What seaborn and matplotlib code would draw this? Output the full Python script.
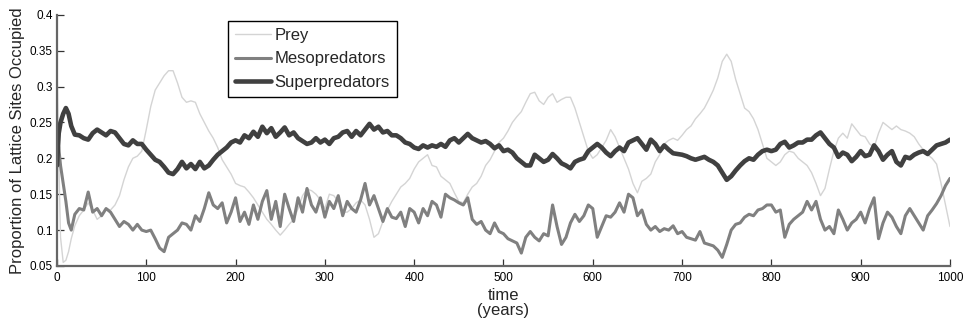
import numpy as np
import pandas as pd
import matplotlib
matplotlib.use("Agg")
import matplotlib.pyplot as plt
import seaborn as sns
from matplotlib.ticker import FuncFormatter

years = [0, 2, 4, 7, 10, 13, 16] + list(range(20, 1001, 5))

superpredators = [
    0.19, 0.235, 0.25, 0.262, 0.27, 0.262, 0.245,
    0.233, 0.232, 0.228, 0.226, 0.235, 0.24, 0.236, 0.232, 0.238, 0.236,
    0.228, 0.22, 0.218, 0.225, 0.22, 0.22, 0.212, 0.205, 0.198, 0.195,
    0.188, 0.18, 0.178, 0.185, 0.195, 0.186, 0.192, 0.185, 0.195, 0.186,
    0.19, 0.198, 0.205, 0.21, 0.215, 0.222, 0.225, 0.222, 0.232, 0.228,
    0.237, 0.23, 0.244, 0.235, 0.242, 0.23, 0.236, 0.243, 0.232, 0.236,
    0.228, 0.224, 0.22, 0.222, 0.228, 0.222, 0.226, 0.22, 0.228, 0.23,
    0.236, 0.238, 0.23, 0.238, 0.232, 0.24, 0.248, 0.24, 0.244, 0.236,
    0.238, 0.232, 0.232, 0.228, 0.222, 0.22, 0.215, 0.213, 0.218, 0.215,
    0.218, 0.216, 0.22, 0.216, 0.225, 0.228, 0.222, 0.228, 0.234, 0.228,
    0.225, 0.222, 0.224, 0.22, 0.214, 0.218, 0.21, 0.212, 0.208, 0.2,
    0.195, 0.19, 0.19, 0.205, 0.2, 0.195, 0.198, 0.206, 0.2, 0.193,
    0.19, 0.186, 0.195, 0.198, 0.2, 0.21, 0.215, 0.22, 0.215, 0.208,
    0.203, 0.21, 0.215, 0.21, 0.222, 0.225, 0.228, 0.22, 0.212, 0.226,
    0.22, 0.21, 0.218, 0.212, 0.207, 0.206, 0.205, 0.203, 0.2, 0.198,
    0.2, 0.202, 0.198, 0.195, 0.19, 0.18, 0.17, 0.175, 0.183, 0.19,
    0.196, 0.2, 0.198, 0.205, 0.21, 0.212, 0.21, 0.212, 0.22, 0.223,
    0.215, 0.218, 0.222, 0.222, 0.226, 0.226, 0.232, 0.236, 0.228, 0.22,
    0.215, 0.202, 0.208, 0.205, 0.196, 0.202, 0.21, 0.203, 0.205, 0.218,
    0.21, 0.198, 0.205, 0.21, 0.195, 0.19, 0.202, 0.2, 0.205, 0.208,
    0.21, 0.206, 0.212, 0.218, 0.22, 0.222, 0.226,
]

mesopredators = [
    0.23, 0.215, 0.19, 0.165, 0.14, 0.11, 0.1,
    0.122, 0.13, 0.128, 0.153, 0.125, 0.13, 0.12, 0.13, 0.125, 0.115,
    0.105, 0.112, 0.108, 0.1, 0.108, 0.1, 0.098, 0.1, 0.088, 0.075,
    0.07, 0.09, 0.095, 0.1, 0.11, 0.108, 0.1, 0.12, 0.112, 0.13,
    0.152, 0.135, 0.13, 0.138, 0.11, 0.125, 0.145, 0.112, 0.125, 0.108,
    0.135, 0.115, 0.14, 0.155, 0.115, 0.14, 0.105, 0.15, 0.13, 0.112,
    0.145, 0.125, 0.158, 0.135, 0.125, 0.145, 0.118, 0.14, 0.13, 0.148,
    0.12, 0.14, 0.13, 0.125, 0.142, 0.165, 0.135, 0.148, 0.13, 0.112,
    0.13, 0.118, 0.116, 0.125, 0.105, 0.13, 0.125, 0.11, 0.13, 0.12,
    0.14, 0.135, 0.118, 0.15, 0.145, 0.142, 0.138, 0.135, 0.145, 0.115,
    0.108, 0.112, 0.1, 0.095, 0.11, 0.098, 0.095, 0.088, 0.085, 0.082,
    0.068, 0.09, 0.098, 0.09, 0.085, 0.095, 0.092, 0.135, 0.105, 0.08,
    0.09, 0.11, 0.122, 0.112, 0.12, 0.135, 0.13, 0.09, 0.105, 0.12,
    0.118, 0.125, 0.138, 0.125, 0.15, 0.145, 0.12, 0.128, 0.108, 0.1,
    0.105, 0.098, 0.102, 0.1, 0.106, 0.095, 0.098, 0.09, 0.088, 0.086,
    0.098, 0.082, 0.08, 0.078, 0.072, 0.062, 0.08, 0.1, 0.108, 0.11,
    0.118, 0.122, 0.12, 0.128, 0.13, 0.135, 0.135, 0.125, 0.128, 0.09,
    0.108, 0.115, 0.12, 0.125, 0.14, 0.128, 0.14, 0.115, 0.1, 0.105,
    0.095, 0.128, 0.115, 0.1, 0.11, 0.115, 0.125, 0.11, 0.13, 0.145,
    0.088, 0.11, 0.125, 0.118, 0.105, 0.095, 0.12, 0.13, 0.12, 0.11,
    0.1, 0.12, 0.128, 0.137, 0.148, 0.162, 0.172,
]

prey = [
    0.335, 0.2, 0.09, 0.055, 0.058, 0.07, 0.088,
    0.106, 0.12, 0.128, 0.138, 0.128, 0.115, 0.12, 0.13, 0.128, 0.135,
    0.148, 0.17, 0.188, 0.2, 0.203, 0.21, 0.24, 0.272, 0.295, 0.305,
    0.315, 0.322, 0.322, 0.305, 0.285, 0.278, 0.28, 0.278, 0.262, 0.25,
    0.238, 0.228, 0.215, 0.198, 0.188, 0.178, 0.165, 0.162, 0.16, 0.153,
    0.145, 0.135, 0.125, 0.115, 0.108, 0.1, 0.093, 0.1, 0.108, 0.115,
    0.13, 0.148, 0.157, 0.155, 0.15, 0.142, 0.13, 0.15, 0.148, 0.14,
    0.125, 0.125, 0.13, 0.138, 0.142, 0.135, 0.115, 0.09, 0.095, 0.112,
    0.128, 0.14, 0.15, 0.16, 0.165, 0.172, 0.185, 0.195, 0.2, 0.205,
    0.19, 0.188, 0.175, 0.17, 0.165, 0.152, 0.14, 0.138, 0.15, 0.16,
    0.165, 0.175, 0.19, 0.198, 0.21, 0.222, 0.228, 0.238, 0.25, 0.258,
    0.265, 0.278, 0.29, 0.292, 0.28, 0.275, 0.285, 0.29, 0.278, 0.282,
    0.285, 0.285, 0.27, 0.25, 0.23, 0.21, 0.2, 0.205, 0.215, 0.225,
    0.24, 0.23, 0.215, 0.2, 0.185, 0.165, 0.152, 0.168, 0.172, 0.178,
    0.195, 0.205, 0.22, 0.225, 0.228, 0.225, 0.232, 0.24, 0.245, 0.255,
    0.262, 0.27, 0.282, 0.295, 0.312, 0.335, 0.345, 0.335, 0.31, 0.29,
    0.27, 0.265, 0.255, 0.24, 0.22, 0.2, 0.195, 0.19, 0.195, 0.205,
    0.21, 0.208, 0.2, 0.195, 0.19, 0.18, 0.165, 0.148, 0.158, 0.185,
    0.21, 0.228, 0.235, 0.228, 0.248, 0.24, 0.232, 0.23, 0.22, 0.215,
    0.235, 0.25, 0.245, 0.24, 0.245, 0.24, 0.238, 0.235, 0.23, 0.22,
    0.212, 0.205, 0.2, 0.192, 0.165, 0.135, 0.105,
]

series_names = ["Prey", "Mesopredators", "Superpredators"]

sns.set_style("ticks")
plt.rcParams["font.family"] = ["Liberation Sans", "DejaVu Sans"]

fig = plt.figure(figsize=(9.67, 3.29), dpi=100)
ax = fig.add_axes([0.0589, 0.1915, 0.9235, 0.7638])

styles = {
    "Prey": dict(color="#d4d4d4", lw=1.0),
    "Mesopredators": dict(color="#808080", lw=2.2),
    "Superpredators": dict(color="#404040", lw=3.3),
}
for name, vals in zip(series_names, [prey, mesopredators, superpredators]):
    sns.lineplot(x=years, y=vals, ax=ax, label=name, estimator=None,
                 sort=False, **styles[name])

ax.set_xlim(0, 1000)
ax.set_ylim(0.05, 0.4)
ax.set_xticks(range(0, 1001, 100))
ax.set_yticks(np.arange(0.05, 0.4001, 0.05))
ax.yaxis.set_major_formatter(FuncFormatter(lambda v, p: f"{v:g}"))
ax.tick_params(direction="in", length=5, width=0.9, color="#333333",
               labelsize=8.5, labelcolor="black")
ax.tick_params(axis="x", pad=4)
ax.tick_params(axis="y", pad=3)
for s in ["top", "right"]:
    ax.spines[s].set_visible(False)
for s in ["left", "bottom"]:
    ax.spines[s].set_color("#666666")
    ax.spines[s].set_linewidth(1.6)

ax.set_xlabel("time\n(years)", fontsize=12, labelpad=3, linespacing=1.0)
ax.set_ylabel("Proportion of Lattice Sites Occupied", fontsize=12, labelpad=3)

leg = ax.legend(loc="upper left", bbox_to_anchor=(0.1915, 0.975), frameon=True,
                fancybox=False, edgecolor="black", framealpha=1, fontsize=12,
                handlelength=2.2, handletextpad=0.2, borderpad=0.4,
                labelspacing=0.53, borderaxespad=0)
leg.get_frame().set_linewidth(1.0)

fig.savefig("out.png", dpi=100)
